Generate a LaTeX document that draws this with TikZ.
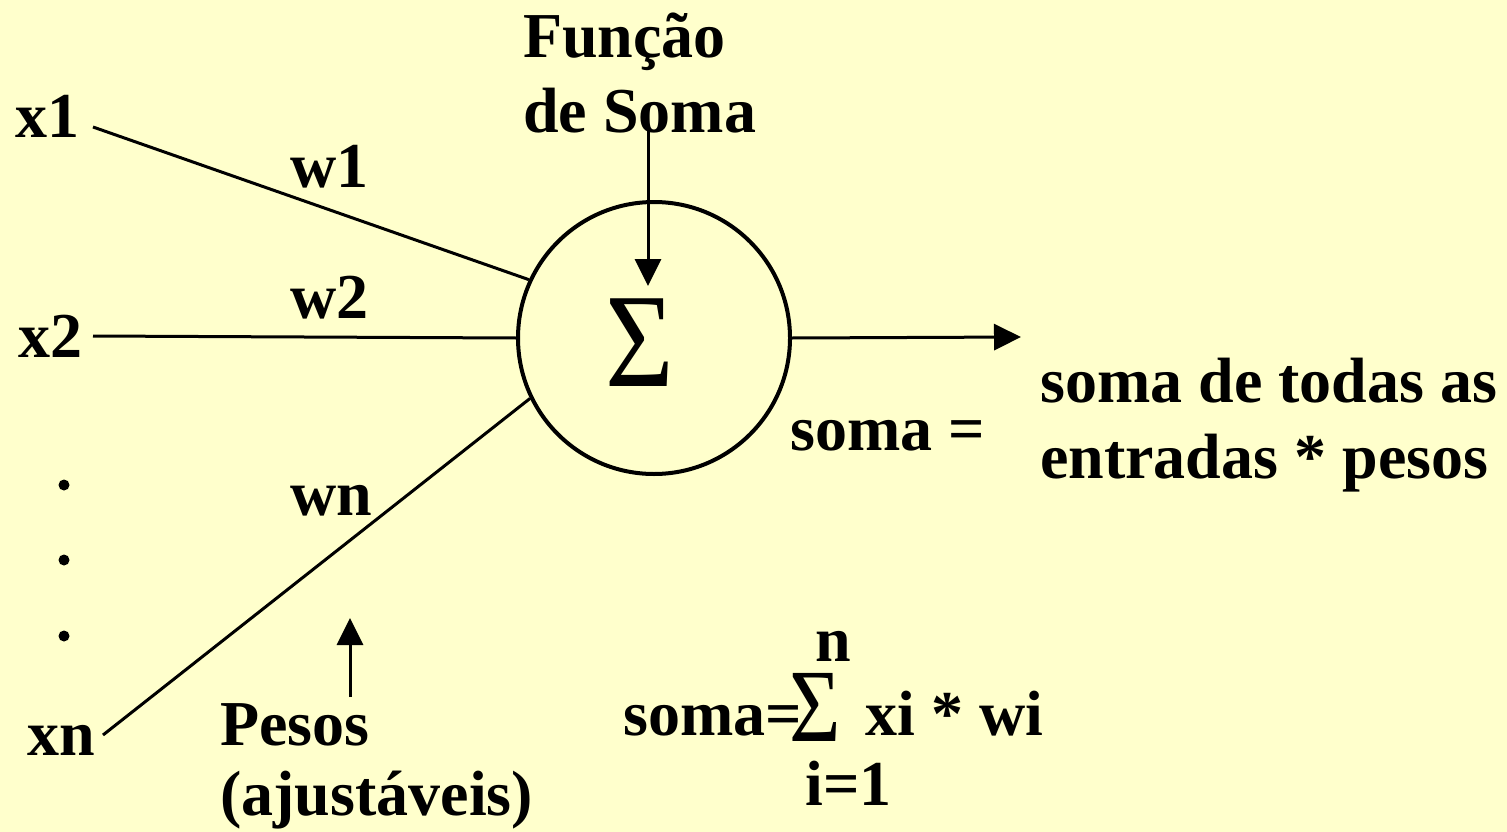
\documentclass[tikz,border=0pt]{standalone}
\usepackage{fontspec}
\setmainfont{Liberation Serif}
\usetikzlibrary{arrows.meta}
\definecolor{bg}{HTML}{FFFFCC}
\begin{document}
\begin{tikzpicture}[x=1pt,y=-1pt,
  lbl/.style={font=\fontsize{64}{75}\selectfont\bfseries, inner sep=0pt, anchor=base west},
  wire/.style={line width=3pt, line cap=butt},
  arr/.style={line width=3pt, -{Triangle[length=27pt,width=26pt]}},
  neuron/.style={circle, draw, line width=4pt, minimum size=272pt, inner sep=0pt},
  dotmark/.style={circle, fill, inner sep=0pt, minimum size=11pt}]
\fill[bg] (0,0) rectangle (1507,832);
\useasboundingbox (0,0) rectangle (1507,832);

% neuron
\node[neuron] (sum) at (654,338) {};
\node[inner sep=0pt, anchor=base, font=\fontsize{134}{134}\selectfont, xscale=0.88] (sig) at (640,386) {Σ};

% inputs
\node[lbl] (x1) at (15,138) {x1};
\node[lbl] (x2) at (18,357) {x2};
\node[lbl] (xn) at (27,755) {xn};
\coordinate (x1s) at (93,127);
\coordinate (x2s) at (93,336);
\coordinate (xns) at (103,735);
\draw[wire] (x1s) -- (sum.155);
\draw[wire] (x2s) -- (sum.west);
\draw[wire] (xns) -- (sum.206);

% weights
\node[lbl] (w1) at (290,187) {w1};
\node[lbl] (w2) at (290,318) {w2};
\node[lbl] (wn) at (290,515) {wn};

% dots
\node[dotmark] (d1) at (64,485) {};
\node[dotmark] (d2) at (64,560) {};
\node[dotmark] (d3) at (64,636) {};

% sum function label
\node[lbl] (func1) at (523,58) {Função};
\node[lbl] (func2) at (523,133) {de Soma};
\coordinate (fa) at (648,130);
\coordinate (fb) at (648,286);
\draw[arr] (fa) -- (fb);

% output
\coordinate (out) at (1021,337);
\draw[arr] (sum.east) -- (out);
\node[lbl] (seq) at (790,450) {soma =};
\node[lbl] (desc1) at (1040,402) {soma de todas as};
\node[lbl] (desc2) at (1040,478) {entradas * pesos};

% weights label
\node[lbl] (pesos1) at (220,745) {Pesos};
\node[lbl] (pesos2) at (220,815) {(ajustáveis)};
\coordinate (pa) at (350,697);
\coordinate (pb) at (350,618);
\draw[arr] (pa) -- (pb);

% formula
\node[lbl] (f1) at (623,735) {soma=};
\node[inner sep=0pt, anchor=base, font=\fontsize{104}{104}\selectfont, xscale=0.85] (fsig) at (815,741) {Σ};
\node[lbl] (f2) at (865,735) {xi * wi};
\node[lbl, anchor=base] (fn) at (833,661) {n};
\node[lbl] (fi) at (805,805) {i=1};
\end{tikzpicture}
\end{document}
